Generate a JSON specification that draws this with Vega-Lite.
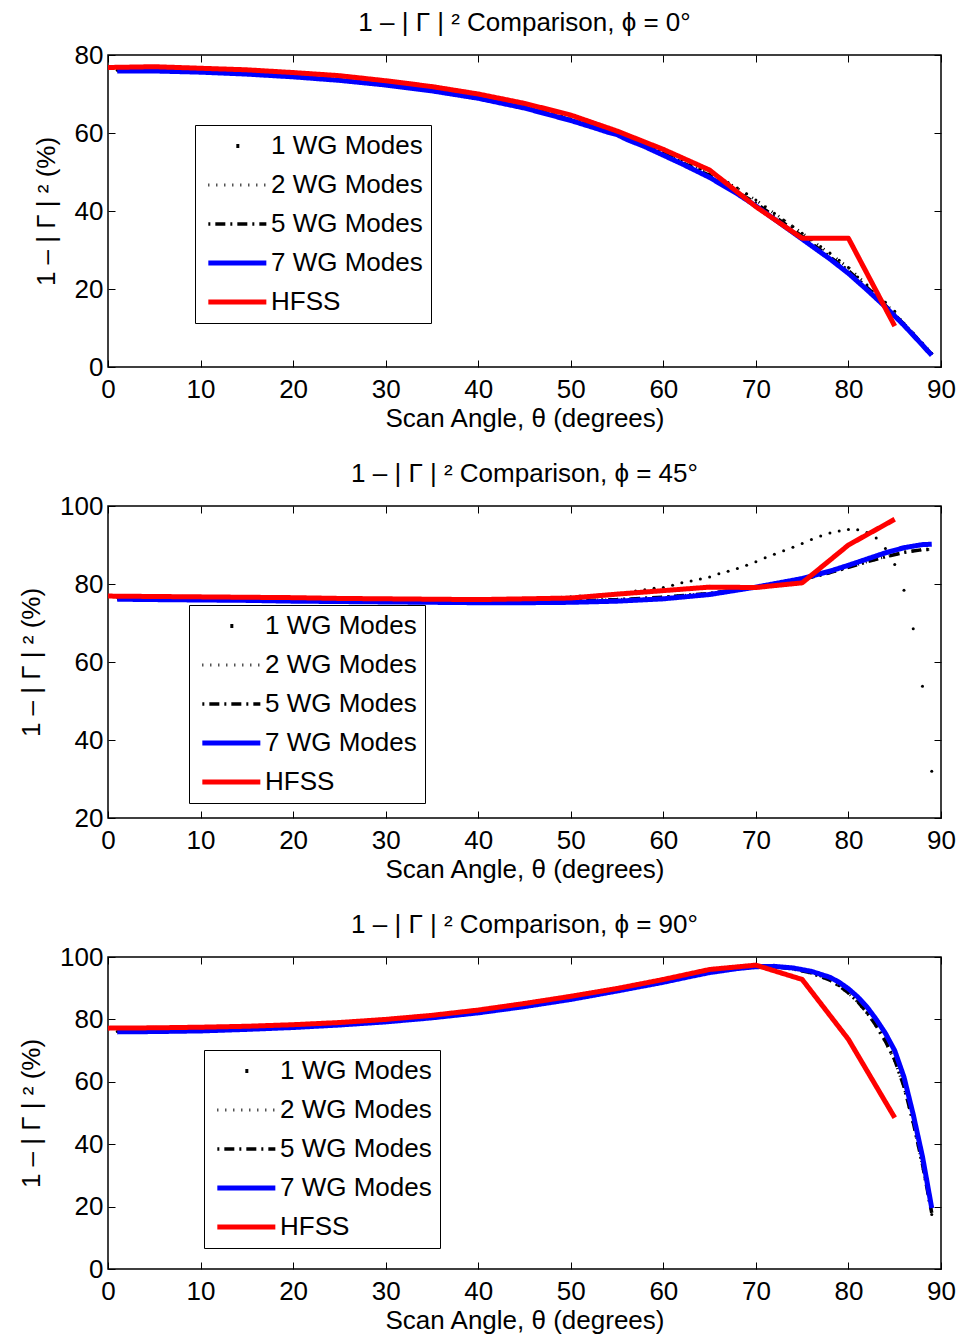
{
  "$schema": "https://vega.github.io/schema/vega-lite/v6.json",
  "background": "white",
  "padding": {"left": 17, "top": 9, "right": 5, "bottom": 5},
  "config": {
    "view": {"stroke": "black", "strokeWidth": 1.5},
    "font": "Liberation Sans",
    "axis": {
      "labelFont": "Liberation Sans", "labelFontSize": 26, "labelColor": "black", "labelFlush": false,
      "titleFont": "Liberation Sans", "titleFontSize": 26, "titleFontWeight": "normal", "titleColor": "black",
      "domain": false, "tickColor": "black", "tickSize": -7, "tickWidth": 1,
      "gridColor": "black", "gridDash": [1, 9], "gridOpacity": 0.75, "gridWidth": 1
    },
    "axisX": {"labelPadding": 16, "titlePadding": 3},
    "axisY": {"labelPadding": 12, "titlePadding": 15},
    "title": {"fontSize": 26, "fontWeight": "normal", "font": "Liberation Sans", "color": "black", "offset": 6},
    "legend": {"orient": "none", "symbolType": "M-1,0H5", "symbolSize": 374, "labelFontSize": 26, "labelFont": "Liberation Sans", "labelColor": "black", "labelOffset": 40, "symbolOffset": 2, "strokeColor": "black", "fillColor": "white", "padding": 8, "rowPadding": 13, "labelLimit": 400},
    "concat": {"spacing": 28}
  },
  "datasets": {
    "p0": [
      {"s":"1 WG Modes","t":1,"v":76.1},{"s":"1 WG Modes","t":2,"v":76.1},{"s":"1 WG Modes","t":3,"v":76.1},{"s":"1 WG Modes","t":4,"v":76.1},{"s":"1 WG Modes","t":5,"v":76.1},{"s":"1 WG Modes","t":6,"v":76.0},{"s":"1 WG Modes","t":7,"v":76.0},{"s":"1 WG Modes","t":8,"v":75.9},{"s":"1 WG Modes","t":9,"v":75.9},{"s":"1 WG Modes","t":10,"v":75.8},
      {"s":"1 WG Modes","t":11,"v":75.7},{"s":"1 WG Modes","t":12,"v":75.6},{"s":"1 WG Modes","t":13,"v":75.5},{"s":"1 WG Modes","t":14,"v":75.4},{"s":"1 WG Modes","t":15,"v":75.3},{"s":"1 WG Modes","t":16,"v":75.2},{"s":"1 WG Modes","t":17,"v":75.0},{"s":"1 WG Modes","t":18,"v":74.9},{"s":"1 WG Modes","t":19,"v":74.7},{"s":"1 WG Modes","t":20,"v":74.6},
      {"s":"1 WG Modes","t":21,"v":74.4},{"s":"1 WG Modes","t":22,"v":74.2},{"s":"1 WG Modes","t":23,"v":74.1},{"s":"1 WG Modes","t":24,"v":73.9},{"s":"1 WG Modes","t":25,"v":73.7},{"s":"1 WG Modes","t":26,"v":73.5},{"s":"1 WG Modes","t":27,"v":73.2},{"s":"1 WG Modes","t":28,"v":73.0},{"s":"1 WG Modes","t":29,"v":72.8},{"s":"1 WG Modes","t":30,"v":72.5},
      {"s":"1 WG Modes","t":31,"v":72.2},{"s":"1 WG Modes","t":32,"v":71.9},{"s":"1 WG Modes","t":33,"v":71.6},{"s":"1 WG Modes","t":34,"v":71.3},{"s":"1 WG Modes","t":35,"v":71.0},{"s":"1 WG Modes","t":36,"v":70.6},{"s":"1 WG Modes","t":37,"v":70.3},{"s":"1 WG Modes","t":38,"v":69.9},{"s":"1 WG Modes","t":39,"v":69.5},{"s":"1 WG Modes","t":40,"v":69.1},
      {"s":"1 WG Modes","t":41,"v":68.8},{"s":"1 WG Modes","t":42,"v":68.3},{"s":"1 WG Modes","t":43,"v":67.8},{"s":"1 WG Modes","t":44,"v":67.3},{"s":"1 WG Modes","t":45,"v":66.8},{"s":"1 WG Modes","t":46,"v":66.2},{"s":"1 WG Modes","t":47,"v":65.6},{"s":"1 WG Modes","t":48,"v":65.0},{"s":"1 WG Modes","t":49,"v":64.3},{"s":"1 WG Modes","t":50,"v":63.6},
      {"s":"1 WG Modes","t":51,"v":63.2},{"s":"1 WG Modes","t":52,"v":62.5},{"s":"1 WG Modes","t":53,"v":61.7},{"s":"1 WG Modes","t":54,"v":60.9},{"s":"1 WG Modes","t":55,"v":60.3},{"s":"1 WG Modes","t":56,"v":59.1},{"s":"1 WG Modes","t":57,"v":58.2},{"s":"1 WG Modes","t":58,"v":57.2},{"s":"1 WG Modes","t":59,"v":56.1},{"s":"1 WG Modes","t":60,"v":55.0},
      {"s":"1 WG Modes","t":61,"v":54.2},{"s":"1 WG Modes","t":62,"v":53.1},{"s":"1 WG Modes","t":63,"v":52.0},{"s":"1 WG Modes","t":64,"v":50.8},{"s":"1 WG Modes","t":65,"v":49.6},{"s":"1 WG Modes","t":66,"v":48.7},{"s":"1 WG Modes","t":67,"v":47.3},{"s":"1 WG Modes","t":68,"v":45.9},{"s":"1 WG Modes","t":69,"v":44.4},{"s":"1 WG Modes","t":70,"v":42.8},
      {"s":"1 WG Modes","t":71,"v":41.1},{"s":"1 WG Modes","t":72,"v":39.4},{"s":"1 WG Modes","t":73,"v":37.7},{"s":"1 WG Modes","t":74,"v":36.0},{"s":"1 WG Modes","t":75,"v":34.3},{"s":"1 WG Modes","t":76,"v":32.6},{"s":"1 WG Modes","t":77,"v":30.9},{"s":"1 WG Modes","t":78,"v":29.2},{"s":"1 WG Modes","t":79,"v":27.4},{"s":"1 WG Modes","t":80,"v":25.5},
      {"s":"1 WG Modes","t":81,"v":23.1},{"s":"1 WG Modes","t":82,"v":21.0},{"s":"1 WG Modes","t":83,"v":18.8},{"s":"1 WG Modes","t":84,"v":16.6},{"s":"1 WG Modes","t":85,"v":14.3},{"s":"1 WG Modes","t":86,"v":11.2},{"s":"1 WG Modes","t":87,"v":8.7},{"s":"1 WG Modes","t":88,"v":6.1},{"s":"1 WG Modes","t":89,"v":3.5},
      {"s":"2 WG Modes","t":1,"v":76.1},{"s":"2 WG Modes","t":5,"v":76.1},{"s":"2 WG Modes","t":10,"v":75.8},{"s":"2 WG Modes","t":15,"v":75.3},{"s":"2 WG Modes","t":20,"v":74.6},{"s":"2 WG Modes","t":25,"v":73.7},{"s":"2 WG Modes","t":30,"v":72.5},{"s":"2 WG Modes","t":35,"v":71.0},{"s":"2 WG Modes","t":40,"v":69.1},{"s":"2 WG Modes","t":45,"v":66.8},{"s":"2 WG Modes","t":50,"v":63.6},{"s":"2 WG Modes","t":55,"v":60.3},{"s":"2 WG Modes","t":60,"v":55.0},{"s":"2 WG Modes","t":65,"v":49.6},{"s":"2 WG Modes","t":66,"v":48.7},{"s":"2 WG Modes","t":70,"v":42.8},{"s":"2 WG Modes","t":75,"v":34.3},{"s":"2 WG Modes","t":80,"v":25.5},{"s":"2 WG Modes","t":83,"v":18.8},{"s":"2 WG Modes","t":86,"v":11.2},{"s":"2 WG Modes","t":89,"v":3.5},
      {"s":"5 WG Modes","t":1,"v":76.0},{"s":"5 WG Modes","t":5,"v":76.0},{"s":"5 WG Modes","t":10,"v":75.7},{"s":"5 WG Modes","t":15,"v":75.2},{"s":"5 WG Modes","t":20,"v":74.5},{"s":"5 WG Modes","t":25,"v":73.6},{"s":"5 WG Modes","t":30,"v":72.4},{"s":"5 WG Modes","t":35,"v":70.9},{"s":"5 WG Modes","t":40,"v":69.0},{"s":"5 WG Modes","t":45,"v":66.6},{"s":"5 WG Modes","t":50,"v":63.4},{"s":"5 WG Modes","t":55,"v":60.0},{"s":"5 WG Modes","t":60,"v":54.7},{"s":"5 WG Modes","t":65,"v":49.1},{"s":"5 WG Modes","t":70,"v":42.0},{"s":"5 WG Modes","t":75,"v":33.5},{"s":"5 WG Modes","t":80,"v":24.7},{"s":"5 WG Modes","t":83,"v":18.2},{"s":"5 WG Modes","t":86,"v":11.0},{"s":"5 WG Modes","t":89,"v":3.2},
      {"s":"7 WG Modes","t":1,"v":75.9},{"s":"7 WG Modes","t":5,"v":75.9},{"s":"7 WG Modes","t":10,"v":75.6},{"s":"7 WG Modes","t":15,"v":75.1},{"s":"7 WG Modes","t":20,"v":74.4},{"s":"7 WG Modes","t":25,"v":73.5},{"s":"7 WG Modes","t":30,"v":72.3},{"s":"7 WG Modes","t":35,"v":70.8},{"s":"7 WG Modes","t":40,"v":68.9},{"s":"7 WG Modes","t":45,"v":66.4},{"s":"7 WG Modes","t":50,"v":63.2},{"s":"7 WG Modes","t":53,"v":61.0},{"s":"7 WG Modes","t":54,"v":60.2},{"s":"7 WG Modes","t":55,"v":59.6},{"s":"7 WG Modes","t":56,"v":58.4},{"s":"7 WG Modes","t":58,"v":56.5},{"s":"7 WG Modes","t":60,"v":54.3},{"s":"7 WG Modes","t":62,"v":52.1},{"s":"7 WG Modes","t":65,"v":48.6},{"s":"7 WG Modes","t":68,"v":44.4},{"s":"7 WG Modes","t":70,"v":41.3},{"s":"7 WG Modes","t":72,"v":37.9},{"s":"7 WG Modes","t":75,"v":32.8},{"s":"7 WG Modes","t":78,"v":27.7},{"s":"7 WG Modes","t":80,"v":24.0},{"s":"7 WG Modes","t":82,"v":19.8},{"s":"7 WG Modes","t":84,"v":15.4},{"s":"7 WG Modes","t":86,"v":10.7},{"s":"7 WG Modes","t":88,"v":5.6},{"s":"7 WG Modes","t":89,"v":3.0},
      {"s":"HFSS","t":0,"v":76.8},{"s":"HFSS","t":5,"v":77.0},{"s":"HFSS","t":10,"v":76.6},{"s":"HFSS","t":15,"v":76.2},{"s":"HFSS","t":20,"v":75.5},{"s":"HFSS","t":25,"v":74.7},{"s":"HFSS","t":30,"v":73.4},{"s":"HFSS","t":35,"v":71.9},{"s":"HFSS","t":40,"v":70.0},{"s":"HFSS","t":45,"v":67.6},{"s":"HFSS","t":50,"v":64.6},{"s":"HFSS","t":55,"v":60.5},{"s":"HFSS","t":60,"v":55.8},{"s":"HFSS","t":65,"v":50.5},{"s":"HFSS","t":70,"v":41.1},{"s":"HFSS","t":75,"v":33.0},{"s":"HFSS","t":80,"v":33.0},{"s":"HFSS","t":85,"v":10.5}
    ],
    "p45": [
      {"s":"1 WG Modes","t":1,"v":76.6},{"s":"1 WG Modes","t":2,"v":76.6},{"s":"1 WG Modes","t":3,"v":76.6},{"s":"1 WG Modes","t":4,"v":76.6},{"s":"1 WG Modes","t":5,"v":76.6},{"s":"1 WG Modes","t":6,"v":76.5},{"s":"1 WG Modes","t":7,"v":76.5},{"s":"1 WG Modes","t":8,"v":76.5},{"s":"1 WG Modes","t":9,"v":76.5},{"s":"1 WG Modes","t":10,"v":76.4},
      {"s":"1 WG Modes","t":11,"v":76.4},{"s":"1 WG Modes","t":12,"v":76.4},{"s":"1 WG Modes","t":13,"v":76.4},{"s":"1 WG Modes","t":14,"v":76.3},{"s":"1 WG Modes","t":15,"v":76.3},{"s":"1 WG Modes","t":16,"v":76.3},{"s":"1 WG Modes","t":17,"v":76.3},{"s":"1 WG Modes","t":18,"v":76.2},{"s":"1 WG Modes","t":19,"v":76.2},{"s":"1 WG Modes","t":20,"v":76.2},
      {"s":"1 WG Modes","t":21,"v":76.1},{"s":"1 WG Modes","t":22,"v":76.1},{"s":"1 WG Modes","t":23,"v":76.1},{"s":"1 WG Modes","t":24,"v":76.1},{"s":"1 WG Modes","t":25,"v":76.0},{"s":"1 WG Modes","t":26,"v":76.0},{"s":"1 WG Modes","t":27,"v":76.0},{"s":"1 WG Modes","t":28,"v":76.0},{"s":"1 WG Modes","t":29,"v":75.9},{"s":"1 WG Modes","t":30,"v":75.9},
      {"s":"1 WG Modes","t":31,"v":75.9},{"s":"1 WG Modes","t":32,"v":75.9},{"s":"1 WG Modes","t":33,"v":75.9},{"s":"1 WG Modes","t":34,"v":75.9},{"s":"1 WG Modes","t":35,"v":75.9},{"s":"1 WG Modes","t":36,"v":75.9},{"s":"1 WG Modes","t":37,"v":75.9},{"s":"1 WG Modes","t":38,"v":75.9},{"s":"1 WG Modes","t":39,"v":75.9},{"s":"1 WG Modes","t":40,"v":76.0},
      {"s":"1 WG Modes","t":41,"v":76.0},{"s":"1 WG Modes","t":42,"v":76.0},{"s":"1 WG Modes","t":43,"v":76.1},{"s":"1 WG Modes","t":44,"v":76.1},{"s":"1 WG Modes","t":45,"v":76.2},{"s":"1 WG Modes","t":46,"v":76.3},{"s":"1 WG Modes","t":47,"v":76.4},{"s":"1 WG Modes","t":48,"v":76.5},{"s":"1 WG Modes","t":49,"v":76.6},{"s":"1 WG Modes","t":50,"v":76.7},
      {"s":"1 WG Modes","t":51,"v":76.9},{"s":"1 WG Modes","t":52,"v":77.0},{"s":"1 WG Modes","t":53,"v":77.2},{"s":"1 WG Modes","t":54,"v":77.35},{"s":"1 WG Modes","t":55,"v":77.6},{"s":"1 WG Modes","t":56,"v":77.9},{"s":"1 WG Modes","t":57,"v":78.2},{"s":"1 WG Modes","t":58,"v":78.5},{"s":"1 WG Modes","t":59,"v":78.9},{"s":"1 WG Modes","t":60,"v":79.1},
      {"s":"1 WG Modes","t":61,"v":79.7},{"s":"1 WG Modes","t":62,"v":80.3},{"s":"1 WG Modes","t":63,"v":80.8},{"s":"1 WG Modes","t":64,"v":81.3},{"s":"1 WG Modes","t":65,"v":81.8},{"s":"1 WG Modes","t":66,"v":82.6},{"s":"1 WG Modes","t":67,"v":83.3},{"s":"1 WG Modes","t":68,"v":84.0},{"s":"1 WG Modes","t":69,"v":84.8},{"s":"1 WG Modes","t":70,"v":85.7},
      {"s":"1 WG Modes","t":71,"v":86.7},{"s":"1 WG Modes","t":72,"v":87.6},{"s":"1 WG Modes","t":73,"v":88.5},{"s":"1 WG Modes","t":74,"v":89.4},{"s":"1 WG Modes","t":75,"v":90.4},{"s":"1 WG Modes","t":76,"v":91.4},{"s":"1 WG Modes","t":77,"v":92.3},{"s":"1 WG Modes","t":78,"v":93.1},{"s":"1 WG Modes","t":79,"v":93.6},{"s":"1 WG Modes","t":80,"v":94.0},
      {"s":"1 WG Modes","t":81,"v":93.9},{"s":"1 WG Modes","t":82,"v":93.2},{"s":"1 WG Modes","t":83,"v":91.8},{"s":"1 WG Modes","t":84,"v":89.1},{"s":"1 WG Modes","t":85,"v":85.0},{"s":"1 WG Modes","t":86,"v":78.4},{"s":"1 WG Modes","t":87,"v":68.5},{"s":"1 WG Modes","t":88,"v":53.8},{"s":"1 WG Modes","t":89,"v":32.0},
      {"s":"2 WG Modes","t":1,"v":76.2},{"s":"2 WG Modes","t":5,"v":76.1},{"s":"2 WG Modes","t":10,"v":76.0},{"s":"2 WG Modes","t":15,"v":75.9},{"s":"2 WG Modes","t":20,"v":75.8},{"s":"2 WG Modes","t":25,"v":75.7},{"s":"2 WG Modes","t":30,"v":75.6},{"s":"2 WG Modes","t":35,"v":75.5},{"s":"2 WG Modes","t":40,"v":75.5},{"s":"2 WG Modes","t":45,"v":75.5},{"s":"2 WG Modes","t":50,"v":75.7},{"s":"2 WG Modes","t":55,"v":76.0},{"s":"2 WG Modes","t":60,"v":76.6},{"s":"2 WG Modes","t":65,"v":77.6},{"s":"2 WG Modes","t":70,"v":79.2},{"s":"2 WG Modes","t":75,"v":81.2},{"s":"2 WG Modes","t":78,"v":82.9},{"s":"2 WG Modes","t":80,"v":84.3},{"s":"2 WG Modes","t":82,"v":85.7},{"s":"2 WG Modes","t":84,"v":87.0},{"s":"2 WG Modes","t":86,"v":88.1},{"s":"2 WG Modes","t":88,"v":88.8},{"s":"2 WG Modes","t":89,"v":88.9},
      {"s":"5 WG Modes","t":1,"v":76.2},{"s":"5 WG Modes","t":5,"v":76.1},{"s":"5 WG Modes","t":10,"v":76.0},{"s":"5 WG Modes","t":15,"v":75.9},{"s":"5 WG Modes","t":20,"v":75.8},{"s":"5 WG Modes","t":25,"v":75.7},{"s":"5 WG Modes","t":30,"v":75.6},{"s":"5 WG Modes","t":35,"v":75.5},{"s":"5 WG Modes","t":40,"v":75.5},{"s":"5 WG Modes","t":45,"v":75.5},{"s":"5 WG Modes","t":50,"v":75.7},{"s":"5 WG Modes","t":55,"v":76.0},{"s":"5 WG Modes","t":60,"v":76.6},{"s":"5 WG Modes","t":65,"v":77.6},{"s":"5 WG Modes","t":70,"v":79.2},{"s":"5 WG Modes","t":75,"v":81.2},{"s":"5 WG Modes","t":78,"v":82.9},{"s":"5 WG Modes","t":80,"v":84.3},{"s":"5 WG Modes","t":82,"v":85.7},{"s":"5 WG Modes","t":84,"v":87.0},{"s":"5 WG Modes","t":86,"v":88.1},{"s":"5 WG Modes","t":88,"v":88.8},{"s":"5 WG Modes","t":89,"v":88.9},
      {"s":"7 WG Modes","t":1,"v":76.1},{"s":"7 WG Modes","t":5,"v":76.0},{"s":"7 WG Modes","t":10,"v":75.9},{"s":"7 WG Modes","t":15,"v":75.8},{"s":"7 WG Modes","t":20,"v":75.6},{"s":"7 WG Modes","t":25,"v":75.5},{"s":"7 WG Modes","t":30,"v":75.4},{"s":"7 WG Modes","t":35,"v":75.3},{"s":"7 WG Modes","t":40,"v":75.2},{"s":"7 WG Modes","t":45,"v":75.2},{"s":"7 WG Modes","t":50,"v":75.3},{"s":"7 WG Modes","t":55,"v":75.6},{"s":"7 WG Modes","t":60,"v":76.2},{"s":"7 WG Modes","t":65,"v":77.3},{"s":"7 WG Modes","t":70,"v":79.2},{"s":"7 WG Modes","t":75,"v":81.4},{"s":"7 WG Modes","t":78,"v":83.3},{"s":"7 WG Modes","t":80,"v":84.8},{"s":"7 WG Modes","t":82,"v":86.4},{"s":"7 WG Modes","t":84,"v":88.0},{"s":"7 WG Modes","t":86,"v":89.3},{"s":"7 WG Modes","t":88,"v":90.1},{"s":"7 WG Modes","t":89,"v":90.2},
      {"s":"HFSS","t":0,"v":76.9},{"s":"HFSS","t":5,"v":76.8},{"s":"HFSS","t":10,"v":76.7},{"s":"HFSS","t":15,"v":76.6},{"s":"HFSS","t":20,"v":76.5},{"s":"HFSS","t":25,"v":76.3},{"s":"HFSS","t":30,"v":76.2},{"s":"HFSS","t":35,"v":76.1},{"s":"HFSS","t":40,"v":76.0},{"s":"HFSS","t":45,"v":76.2},{"s":"HFSS","t":50,"v":76.4},{"s":"HFSS","t":55,"v":77.4},{"s":"HFSS","t":60,"v":78.3},{"s":"HFSS","t":65,"v":79.2},{"s":"HFSS","t":70,"v":79.1},{"s":"HFSS","t":75,"v":80.3},{"s":"HFSS","t":80,"v":90.0},{"s":"HFSS","t":85,"v":96.6}
    ],
    "p90": [
      {"s":"1 WG Modes","t":1,"v":76.1},{"s":"1 WG Modes","t":2,"v":76.1},{"s":"1 WG Modes","t":3,"v":76.1},{"s":"1 WG Modes","t":4,"v":76.2},{"s":"1 WG Modes","t":5,"v":76.2},{"s":"1 WG Modes","t":6,"v":76.2},{"s":"1 WG Modes","t":7,"v":76.3},{"s":"1 WG Modes","t":8,"v":76.3},{"s":"1 WG Modes","t":9,"v":76.4},{"s":"1 WG Modes","t":10,"v":76.4},
      {"s":"1 WG Modes","t":11,"v":76.5},{"s":"1 WG Modes","t":12,"v":76.6},{"s":"1 WG Modes","t":13,"v":76.7},{"s":"1 WG Modes","t":14,"v":76.8},{"s":"1 WG Modes","t":15,"v":76.9},{"s":"1 WG Modes","t":16,"v":77.0},{"s":"1 WG Modes","t":17,"v":77.1},{"s":"1 WG Modes","t":18,"v":77.3},{"s":"1 WG Modes","t":19,"v":77.4},{"s":"1 WG Modes","t":20,"v":77.5},
      {"s":"1 WG Modes","t":21,"v":77.7},{"s":"1 WG Modes","t":22,"v":77.8},{"s":"1 WG Modes","t":23,"v":78.0},{"s":"1 WG Modes","t":24,"v":78.1},{"s":"1 WG Modes","t":25,"v":78.3},{"s":"1 WG Modes","t":26,"v":78.5},{"s":"1 WG Modes","t":27,"v":78.7},{"s":"1 WG Modes","t":28,"v":78.9},{"s":"1 WG Modes","t":29,"v":79.1},{"s":"1 WG Modes","t":30,"v":79.3},
      {"s":"1 WG Modes","t":31,"v":79.6},{"s":"1 WG Modes","t":32,"v":79.8},{"s":"1 WG Modes","t":33,"v":80.1},{"s":"1 WG Modes","t":34,"v":80.3},{"s":"1 WG Modes","t":35,"v":80.6},{"s":"1 WG Modes","t":36,"v":80.9},{"s":"1 WG Modes","t":37,"v":81.2},{"s":"1 WG Modes","t":38,"v":81.5},{"s":"1 WG Modes","t":39,"v":81.9},{"s":"1 WG Modes","t":40,"v":82.2},
      {"s":"1 WG Modes","t":41,"v":82.6},{"s":"1 WG Modes","t":42,"v":83.0},{"s":"1 WG Modes","t":43,"v":83.4},{"s":"1 WG Modes","t":44,"v":83.8},{"s":"1 WG Modes","t":45,"v":84.2},{"s":"1 WG Modes","t":46,"v":84.7},{"s":"1 WG Modes","t":47,"v":85.1},{"s":"1 WG Modes","t":48,"v":85.6},{"s":"1 WG Modes","t":49,"v":86.0},{"s":"1 WG Modes","t":50,"v":86.5},
      {"s":"1 WG Modes","t":51,"v":87.0},{"s":"1 WG Modes","t":52,"v":87.6},{"s":"1 WG Modes","t":53,"v":88.1},{"s":"1 WG Modes","t":54,"v":88.7},{"s":"1 WG Modes","t":55,"v":89.2},{"s":"1 WG Modes","t":56,"v":89.8},{"s":"1 WG Modes","t":57,"v":90.3},{"s":"1 WG Modes","t":58,"v":90.9},{"s":"1 WG Modes","t":59,"v":91.4},{"s":"1 WG Modes","t":60,"v":92.0},
      {"s":"1 WG Modes","t":61,"v":92.6},{"s":"1 WG Modes","t":62,"v":93.2},{"s":"1 WG Modes","t":63,"v":93.9},{"s":"1 WG Modes","t":64,"v":94.5},{"s":"1 WG Modes","t":65,"v":95.1},{"s":"1 WG Modes","t":66,"v":95.6},{"s":"1 WG Modes","t":67,"v":96.0},{"s":"1 WG Modes","t":68,"v":96.4},{"s":"1 WG Modes","t":69,"v":96.7},{"s":"1 WG Modes","t":70,"v":97.0},
      {"s":"1 WG Modes","t":71,"v":97.1},{"s":"1 WG Modes","t":72,"v":97.0},{"s":"1 WG Modes","t":73,"v":96.6},{"s":"1 WG Modes","t":74,"v":96.2},{"s":"1 WG Modes","t":75,"v":95.6},{"s":"1 WG Modes","t":76,"v":94.9},{"s":"1 WG Modes","t":77,"v":93.9},{"s":"1 WG Modes","t":78,"v":92.6},{"s":"1 WG Modes","t":79,"v":90.8},{"s":"1 WG Modes","t":80,"v":88.5},
      {"s":"1 WG Modes","t":81,"v":85.7},{"s":"1 WG Modes","t":82,"v":82.2},{"s":"1 WG Modes","t":83,"v":78.0},{"s":"1 WG Modes","t":84,"v":73.0},{"s":"1 WG Modes","t":85,"v":67.0},{"s":"1 WG Modes","t":86,"v":58.5},{"s":"1 WG Modes","t":87,"v":47.0},{"s":"1 WG Modes","t":88,"v":33.5},{"s":"1 WG Modes","t":89,"v":17.5},
      {"s":"2 WG Modes","t":1,"v":76.1},{"s":"2 WG Modes","t":5,"v":76.2},{"s":"2 WG Modes","t":10,"v":76.4},{"s":"2 WG Modes","t":15,"v":76.9},{"s":"2 WG Modes","t":20,"v":77.5},{"s":"2 WG Modes","t":25,"v":78.3},{"s":"2 WG Modes","t":30,"v":79.3},{"s":"2 WG Modes","t":35,"v":80.6},{"s":"2 WG Modes","t":40,"v":82.2},{"s":"2 WG Modes","t":45,"v":84.2},{"s":"2 WG Modes","t":50,"v":86.5},{"s":"2 WG Modes","t":55,"v":89.2},{"s":"2 WG Modes","t":60,"v":92.0},{"s":"2 WG Modes","t":65,"v":95.0},{"s":"2 WG Modes","t":68,"v":96.3},{"s":"2 WG Modes","t":70,"v":96.9},{"s":"2 WG Modes","t":72,"v":96.9},{"s":"2 WG Modes","t":74,"v":96.2},{"s":"2 WG Modes","t":76,"v":94.8},{"s":"2 WG Modes","t":78,"v":92.5},{"s":"2 WG Modes","t":79,"v":90.7},{"s":"2 WG Modes","t":80,"v":88.4},{"s":"2 WG Modes","t":81,"v":85.6},{"s":"2 WG Modes","t":82,"v":82.0},{"s":"2 WG Modes","t":83,"v":77.8},{"s":"2 WG Modes","t":84,"v":72.8},{"s":"2 WG Modes","t":85,"v":66.8},{"s":"2 WG Modes","t":86,"v":58.3},{"s":"2 WG Modes","t":87,"v":46.8},{"s":"2 WG Modes","t":88,"v":33.3},{"s":"2 WG Modes","t":89,"v":17.7},
      {"s":"5 WG Modes","t":1,"v":76.1},{"s":"5 WG Modes","t":5,"v":76.2},{"s":"5 WG Modes","t":10,"v":76.4},{"s":"5 WG Modes","t":15,"v":76.9},{"s":"5 WG Modes","t":20,"v":77.5},{"s":"5 WG Modes","t":25,"v":78.3},{"s":"5 WG Modes","t":30,"v":79.3},{"s":"5 WG Modes","t":35,"v":80.6},{"s":"5 WG Modes","t":40,"v":82.2},{"s":"5 WG Modes","t":45,"v":84.2},{"s":"5 WG Modes","t":50,"v":86.5},{"s":"5 WG Modes","t":55,"v":89.2},{"s":"5 WG Modes","t":60,"v":92.0},{"s":"5 WG Modes","t":65,"v":95.0},{"s":"5 WG Modes","t":68,"v":96.3},{"s":"5 WG Modes","t":70,"v":96.9},{"s":"5 WG Modes","t":72,"v":96.9},{"s":"5 WG Modes","t":74,"v":96.2},{"s":"5 WG Modes","t":76,"v":94.9},{"s":"5 WG Modes","t":78,"v":92.6},{"s":"5 WG Modes","t":79,"v":90.8},{"s":"5 WG Modes","t":80,"v":88.5},{"s":"5 WG Modes","t":81,"v":85.7},{"s":"5 WG Modes","t":82,"v":82.2},{"s":"5 WG Modes","t":83,"v":78.0},{"s":"5 WG Modes","t":84,"v":73.0},{"s":"5 WG Modes","t":85,"v":67.0},{"s":"5 WG Modes","t":86,"v":58.5},{"s":"5 WG Modes","t":87,"v":47.0},{"s":"5 WG Modes","t":88,"v":33.5},{"s":"5 WG Modes","t":89,"v":18.0},
      {"s":"7 WG Modes","t":1,"v":76.0},{"s":"7 WG Modes","t":5,"v":76.1},{"s":"7 WG Modes","t":10,"v":76.3},{"s":"7 WG Modes","t":15,"v":76.8},{"s":"7 WG Modes","t":20,"v":77.4},{"s":"7 WG Modes","t":25,"v":78.2},{"s":"7 WG Modes","t":30,"v":79.2},{"s":"7 WG Modes","t":35,"v":80.5},{"s":"7 WG Modes","t":40,"v":82.1},{"s":"7 WG Modes","t":45,"v":84.1},{"s":"7 WG Modes","t":50,"v":86.4},{"s":"7 WG Modes","t":55,"v":89.1},{"s":"7 WG Modes","t":60,"v":91.9},{"s":"7 WG Modes","t":63,"v":93.8},{"s":"7 WG Modes","t":65,"v":95.0},{"s":"7 WG Modes","t":68,"v":96.3},{"s":"7 WG Modes","t":70,"v":96.9},{"s":"7 WG Modes","t":72,"v":97.0},{"s":"7 WG Modes","t":74,"v":96.5},{"s":"7 WG Modes","t":76,"v":95.4},{"s":"7 WG Modes","t":78,"v":93.5},{"s":"7 WG Modes","t":79,"v":91.9},{"s":"7 WG Modes","t":80,"v":89.8},{"s":"7 WG Modes","t":81,"v":87.2},{"s":"7 WG Modes","t":82,"v":84.0},{"s":"7 WG Modes","t":83,"v":80.0},{"s":"7 WG Modes","t":84,"v":75.5},{"s":"7 WG Modes","t":85,"v":70.0},{"s":"7 WG Modes","t":86,"v":61.5},{"s":"7 WG Modes","t":87,"v":49.5},{"s":"7 WG Modes","t":88,"v":36.0},{"s":"7 WG Modes","t":89,"v":19.5},
      {"s":"HFSS","t":0,"v":77.2},{"s":"HFSS","t":5,"v":77.3},{"s":"HFSS","t":10,"v":77.5},{"s":"HFSS","t":15,"v":77.8},{"s":"HFSS","t":20,"v":78.3},{"s":"HFSS","t":25,"v":79.0},{"s":"HFSS","t":30,"v":80.0},{"s":"HFSS","t":35,"v":81.3},{"s":"HFSS","t":40,"v":83.0},{"s":"HFSS","t":45,"v":85.1},{"s":"HFSS","t":50,"v":87.4},{"s":"HFSS","t":55,"v":89.9},{"s":"HFSS","t":60,"v":92.8},{"s":"HFSS","t":65,"v":96.0},{"s":"HFSS","t":70,"v":97.4},{"s":"HFSS","t":75,"v":92.8},{"s":"HFSS","t":80,"v":73.6},{"s":"HFSS","t":85,"v":48.5}
    ]
  },
  "vconcat": [
    {
      "width": 833, "height": 312,
      "title": "1 – | Γ | ² Comparison, ϕ = 0°",
      "data": {"name": "p0"},
      "layer": [
        {
          "transform": [{"filter": "datum.s === '1 WG Modes'"}],
          "mark": {"type": "circle", "color": "black", "size": 9, "opacity": 1},
          "encoding": {
            "x": {"field": "t", "type": "quantitative", "scale": {"domain": [0, 90], "nice": false}, "axis": {"orient": "top", "labels": false, "title": null, "grid": false, "values": [0,10,20,30,40,50,60,70,80,90]}},
            "y": {"field": "v", "type": "quantitative", "scale": {"domain": [0, 80], "nice": false}, "axis": {"orient": "right", "labels": false, "title": null, "grid": false, "values": [0,20,40,60,80]}}
          }
        },
        {
          "transform": [{"filter": "datum.s !== '1 WG Modes'"}],
          "mark": {"type": "line", "strokeCap": "butt", "strokeJoin": "round"},
          "encoding": {
            "x": {"field": "t", "type": "quantitative", "scale": {"domain": [0, 90], "nice": false}, "axis": {"orient": "bottom", "title": "Scan Angle, θ (degrees)", "values": [0,10,20,30,40,50,60,70,80,90]}},
            "y": {"field": "v", "type": "quantitative", "scale": {"domain": [0, 80], "nice": false}, "axis": {"orient": "left", "title": "1 – | Γ | ² (%)", "values": [0,20,40,60,80]}},
            "color": {"field": "s", "type": "nominal", "scale": {"domain": ["1 WG Modes","2 WG Modes","5 WG Modes","7 WG Modes","HFSS"], "range": ["black","black","black","#0000ff","#ff0000"]},
              "legend": {"title": null, "legendX": 87, "legendY": 70}},
            "strokeDash": {"field": "s", "type": "nominal", "scale": {"domain": ["1 WG Modes","2 WG Modes","5 WG Modes","7 WG Modes","HFSS"], "range": [[0,28,3,200],[1,7],[2,5,10,5],[1,0],[1,0]]},
              "legend": {"title": null, "legendX": 87, "legendY": 70}},
            "strokeWidth": {"field": "s", "type": "nominal", "scale": {"type": "ordinal", "domain": ["1 WG Modes","2 WG Modes","5 WG Modes","7 WG Modes","HFSS"], "range": [4,3,3.5,5,5]},
              "legend": {"title": null, "legendX": 87, "legendY": 70}}
          }
        }
      ],
      "resolve": {"axis": {"x": "independent", "y": "independent"}}
    },
    {
      "width": 833, "height": 312,
      "title": "1 – | Γ | ² Comparison, ϕ = 45°",
      "data": {"name": "p45"},
      "layer": [
        {
          "transform": [{"filter": "datum.s === '1 WG Modes'"}],
          "mark": {"type": "circle", "color": "black", "size": 9, "opacity": 1},
          "encoding": {
            "x": {"field": "t", "type": "quantitative", "scale": {"domain": [0, 90], "nice": false}, "axis": {"orient": "top", "labels": false, "title": null, "grid": false, "values": [0,10,20,30,40,50,60,70,80,90]}},
            "y": {"field": "v", "type": "quantitative", "scale": {"domain": [20, 100], "nice": false}, "axis": {"orient": "right", "labels": false, "title": null, "grid": false, "values": [20,40,60,80,100]}}
          }
        },
        {
          "transform": [{"filter": "datum.s !== '1 WG Modes'"}],
          "mark": {"type": "line", "strokeCap": "butt", "strokeJoin": "round"},
          "encoding": {
            "x": {"field": "t", "type": "quantitative", "scale": {"domain": [0, 90], "nice": false}, "axis": {"orient": "bottom", "title": "Scan Angle, θ (degrees)", "values": [0,10,20,30,40,50,60,70,80,90]}},
            "y": {"field": "v", "type": "quantitative", "scale": {"domain": [20, 100], "nice": false}, "axis": {"orient": "left", "title": "1 – | Γ | ² (%)", "values": [20,40,60,80,100]}},
            "color": {"field": "s", "type": "nominal", "scale": {"domain": ["1 WG Modes","2 WG Modes","5 WG Modes","7 WG Modes","HFSS"], "range": ["black","black","black","#0000ff","#ff0000"]},
              "legend": {"title": null, "legendX": 81, "legendY": 99}},
            "strokeDash": {"field": "s", "type": "nominal", "scale": {"domain": ["1 WG Modes","2 WG Modes","5 WG Modes","7 WG Modes","HFSS"], "range": [[0,28,3,200],[1,7],[2,5,10,5],[1,0],[1,0]]},
              "legend": {"title": null, "legendX": 81, "legendY": 99}},
            "strokeWidth": {"field": "s", "type": "nominal", "scale": {"type": "ordinal", "domain": ["1 WG Modes","2 WG Modes","5 WG Modes","7 WG Modes","HFSS"], "range": [4,3,3.5,5,5]},
              "legend": {"title": null, "legendX": 81, "legendY": 99}}
          }
        }
      ],
      "resolve": {"axis": {"x": "independent", "y": "independent"}}
    },
    {
      "width": 833, "height": 312,
      "title": "1 – | Γ | ² Comparison, ϕ = 90°",
      "data": {"name": "p90"},
      "layer": [
        {
          "transform": [{"filter": "datum.s === '1 WG Modes'"}],
          "mark": {"type": "circle", "color": "black", "size": 9, "opacity": 1},
          "encoding": {
            "x": {"field": "t", "type": "quantitative", "scale": {"domain": [0, 90], "nice": false}, "axis": {"orient": "top", "labels": false, "title": null, "grid": false, "values": [0,10,20,30,40,50,60,70,80,90]}},
            "y": {"field": "v", "type": "quantitative", "scale": {"domain": [0, 100], "nice": false}, "axis": {"orient": "right", "labels": false, "title": null, "grid": false, "values": [0,20,40,60,80,100]}}
          }
        },
        {
          "transform": [{"filter": "datum.s !== '1 WG Modes'"}],
          "mark": {"type": "line", "strokeCap": "butt", "strokeJoin": "round"},
          "encoding": {
            "x": {"field": "t", "type": "quantitative", "scale": {"domain": [0, 90], "nice": false}, "axis": {"orient": "bottom", "title": "Scan Angle, θ (degrees)", "values": [0,10,20,30,40,50,60,70,80,90]}},
            "y": {"field": "v", "type": "quantitative", "scale": {"domain": [0, 100], "nice": false}, "axis": {"orient": "left", "title": "1 – | Γ | ² (%)", "values": [0,20,40,60,80,100]}},
            "color": {"field": "s", "type": "nominal", "scale": {"domain": ["1 WG Modes","2 WG Modes","5 WG Modes","7 WG Modes","HFSS"], "range": ["black","black","black","#0000ff","#ff0000"]},
              "legend": {"title": null, "legendX": 96, "legendY": 93}},
            "strokeDash": {"field": "s", "type": "nominal", "scale": {"domain": ["1 WG Modes","2 WG Modes","5 WG Modes","7 WG Modes","HFSS"], "range": [[0,28,3,200],[1,7],[2,5,10,5],[1,0],[1,0]]},
              "legend": {"title": null, "legendX": 96, "legendY": 93}},
            "strokeWidth": {"field": "s", "type": "nominal", "scale": {"type": "ordinal", "domain": ["1 WG Modes","2 WG Modes","5 WG Modes","7 WG Modes","HFSS"], "range": [4,3,3.5,5,5]},
              "legend": {"title": null, "legendX": 96, "legendY": 93}}
          }
        }
      ],
      "resolve": {"axis": {"x": "independent", "y": "independent"}}
    }
  ],
  "resolve": {"scale": {"x": "independent", "y": "independent", "color": "independent", "strokeDash": "independent", "strokeWidth": "independent"}}
}
